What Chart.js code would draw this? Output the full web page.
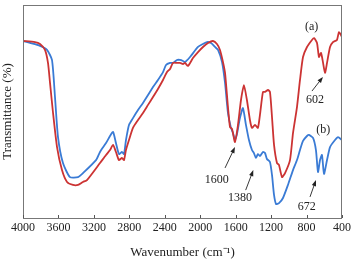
<!DOCTYPE html>
<html>
<head>
<meta charset="utf-8">
<script src="https://cdn.jsdelivr.net/npm/chart.js@4"></script>
<style>
  html, body { margin: 0; padding: 0; background: #fff; }
  #wrap { width: 355px; height: 260px; }
</style>
</head>
<body>
<div id="wrap"><canvas id="ftir" width="355" height="260"></canvas></div>
<script>
// x axis ticks (wavenumber, cm-1)
let xTicks = [4000, 3600, 3200, 2800, 2400, 2000, 1600, 1200, 800, 400];

// (a) red curve
let redWn = [4000, 3865, 3808, 3752, 3718, 3695, 3661, 3616, 3560, 3503, 3436, 3379, 3323, 3278,
  3131, 3063, 3018, 2984, 2951, 2917, 2883, 2860, 2838, 2804, 2759, 2702, 2646, 2589, 2533, 2477,
  2420, 2375, 2341, 2307, 2262, 2228, 2194, 2172, 2138, 2082, 2025, 1969, 1912, 1856, 1811, 1777,
  1743, 1720, 1687, 1664, 1641, 1608, 1574, 1540, 1507, 1473, 1439, 1416, 1382, 1349, 1326, 1292,
  1269, 1235, 1213, 1190, 1167, 1134, 1111, 1077, 1043, 987, 953, 908, 874, 840, 795, 739, 716,
  682, 660, 637, 615, 592, 569, 535, 502, 457, 434, 400];
let redT = [83.1, 82.6, 81.7, 78.9, 72.8, 63.4, 49.3, 33.3, 22.5, 16.9, 15.5, 15.5, 16.9, 17.8,
  25.8, 29.6, 31.9, 34.3, 31.0, 27.2, 28.2, 27.2, 31.9, 36.6, 42.3, 46.0, 49.3, 53.1, 56.8, 60.6,
  64.8, 68.5, 70.0, 72.8, 72.8, 72.8, 72.3, 72.8, 71.4, 75.1, 77.9, 80.3, 82.2, 83.1, 81.7, 78.9,
  73.2, 68.1, 52.1, 42.7, 41.8, 35.7, 43.7, 55.4, 62.4, 55.4, 46.0, 42.3, 43.7, 42.3, 48.4, 59.2,
  59.2, 60.1, 59.2, 47.4, 34.3, 25.8, 24.9, 19.2, 21.1, 27.2, 39.9, 52.1, 64.8, 75.6, 80.3, 83.6, 84.5,
  82.2, 75.6, 77.5, 73.2, 68.1, 72.8, 80.3, 82.6, 83.6, 87.3, 85.0];

// (b) blue curve
let blueWn = [4000, 3921, 3808, 3729, 3673, 3639, 3605, 3549, 3470, 3379, 3323, 3176, 3131, 3063,
  3018, 2984, 2951, 2917, 2883, 2860, 2838, 2804, 2759, 2702, 2646, 2589, 2533, 2477, 2420, 2386,
  2341, 2307, 2262, 2228, 2194, 2172, 2115, 2025, 1969, 1924, 1878, 1833, 1799, 1754, 1720, 1687,
  1653, 1630, 1608, 1585, 1552, 1518, 1484, 1450, 1416, 1394, 1371, 1349, 1326, 1292, 1269, 1247,
  1213, 1190, 1167, 1145, 1111, 1066, 1010, 953, 908, 874, 840, 795, 773, 727, 694, 671, 648, 626,
  603, 569, 535, 479, 445, 400];
let blueT = [83.1, 82.2, 80.8, 78.9, 74.2, 56.8, 38.0, 25.8, 19.2, 19.2, 21.1, 27.2, 31.0, 35.2,
  38.5, 40.4, 35.2, 30.0, 31.0, 30.0, 36.6, 43.7, 46.9, 50.7, 54.0, 57.7, 61.5, 64.8, 68.5, 71.8,
  72.8, 72.8, 74.2, 74.2, 73.7, 73.2, 75.6, 80.3, 81.7, 82.6, 82.2, 80.3, 78.9, 73.2, 63.4, 49.3,
  42.3, 39.9, 36.6, 39.4, 46.9, 51.6, 43.7, 36.6, 31.9, 30.5, 28.2, 30.0, 29.1, 31.0, 30.5, 27.7,
  26.3, 20.2, 10.8, 6.6, 7.0, 9.4, 15.5, 22.5, 27.2, 31.9, 36.2, 38.5, 39.0, 37.6, 31.9, 21.6, 27.2, 29.6,
  20.7, 27.2, 33.3, 36.6, 38.0, 36.6];

// annotations: text position and optional arrow (tail -> head), in data units
let notes = [
  { text: "(a)", x: 742, y: 89.8 },
  { text: "(b)", x: 611, y: 41.3 },
  { text: "602", x: 705, y: 55.4, from: [739, 59.6], to: [615, 66.2] },
  { text: "672", x: 798, y: 5.2, from: [761, 9.9], to: [694, 17.8] },
  { text: "1600", x: 1814, y: 17.8, from: [1720, 23.5], to: [1608, 33.3] },
  { text: "1380", x: 1551, y: 9.4, from: [1487, 13.1], to: [1401, 22.5] }
];

function toPoints(xs, ys) {
  let pts = [];
  for (let i = 0; i < xs.length; i++) pts.push({ x: xs[i], y: ys[i] });
  return pts;
}

let serif = "'Liberation Serif', 'Times New Roman', serif";

// frame, inward ticks, arrows and labels
let extras = {
  id: "extras",
  afterDatasetsDraw(chart) {
    let ctx = chart.ctx;
    let a = chart.chartArea;
    let xs = chart.scales.x;
    let ys = chart.scales.y;
    ctx.save();
    ctx.strokeStyle = "#777";
    ctx.lineWidth = 1;
    ctx.strokeRect(a.left + 0.5, a.top + 0.5, a.right - a.left - 1, a.bottom - a.top);
    // inward ticks on bottom axis
    ctx.strokeStyle = "#555";
    xTicks.forEach((t) => {
      let px = Math.round(xs.getPixelForValue(t)) + 0.5;
      ctx.beginPath();
      ctx.moveTo(px, a.bottom);
      ctx.lineTo(px, a.bottom - 3);
      ctx.stroke();
    });
    ctx.fillStyle = "#222";
    ctx.font = "12px " + serif;
    ctx.textAlign = "center";
    ctx.textBaseline = "middle";
    notes.forEach((n) => {
      ctx.fillText(n.text, xs.getPixelForValue(n.x), ys.getPixelForValue(n.y));
      if (n.from) {
        let x1 = xs.getPixelForValue(n.from[0]), y1 = ys.getPixelForValue(n.from[1]);
        let x2 = xs.getPixelForValue(n.to[0]), y2 = ys.getPixelForValue(n.to[1]);
        let ang = Math.atan2(y2 - y1, x2 - x1);
        ctx.strokeStyle = "#222";
        ctx.lineWidth = 0.9;
        ctx.beginPath();
        ctx.moveTo(x1, y1);
        ctx.lineTo(x2 - 4 * Math.cos(ang), y2 - 4 * Math.sin(ang));
        ctx.stroke();
        ctx.beginPath();
        ctx.moveTo(x2, y2);
        ctx.lineTo(x2 - 6 * Math.cos(ang) + 2.2 * Math.sin(ang), y2 - 6 * Math.sin(ang) - 2.2 * Math.cos(ang));
        ctx.lineTo(x2 - 6 * Math.cos(ang) - 2.2 * Math.sin(ang), y2 - 6 * Math.sin(ang) + 2.2 * Math.cos(ang));
        ctx.closePath();
        ctx.fill();
      }
    });
    ctx.restore();
  }
};

let chart = new Chart(document.getElementById("ftir"), {
  type: "line",
  data: {
    datasets: [
      {
        label: "(a)",
        data: toPoints(redWn, redT),
        borderColor: "#cc3333",
        borderWidth: 1.8,
        pointRadius: 0,
        tension: 0.2
      },
      {
        label: "(b)",
        data: toPoints(blueWn, blueT),
        borderColor: "#3a7bd5",
        borderWidth: 1.8,
        pointRadius: 0,
        tension: 0.2
      }
    ]
  },
  options: {
    responsive: false,
    animation: false,
    layout: { padding: { left: 0, right: 13, top: 5, bottom: 0 } },
    plugins: { legend: { display: false }, tooltip: { enabled: false } },
    scales: {
      x: {
        type: "linear",
        reverse: true,
        min: 400,
        max: 4000,
        afterBuildTicks: (s) => { s.ticks = xTicks.map((v) => ({ value: v })); },
        afterFit: (s) => { s.height = 42; },
        grid: { display: false, drawTicks: false },
        border: { display: false },
        ticks: {
          autoSkip: false,
          maxRotation: 0,
          padding: 3,
          color: "#222",
          font: { family: serif, size: 12 },
          callback: (v) => String(v)
        },
        title: {
          display: true,
          text: "Wavenumber (cm\u207B\u00B9)",
          color: "#222",
          padding: { top: 4, bottom: 0 },
          font: { family: serif, size: 13 }
        }
      },
      y: {
        min: 0,
        max: 100,
        afterFit: (s) => { s.width = 23; },
        grid: { display: false, drawTicks: false },
        border: { display: false },
        ticks: { display: false },
        title: {
          display: true,
          text: "Transmittance (%)",
          color: "#222",
          padding: { top: 0, bottom: 0 },
          font: { family: serif, size: 13 }
        }
      }
    }
  },
  plugins: [extras]
});
</script>
</body>
</html>
